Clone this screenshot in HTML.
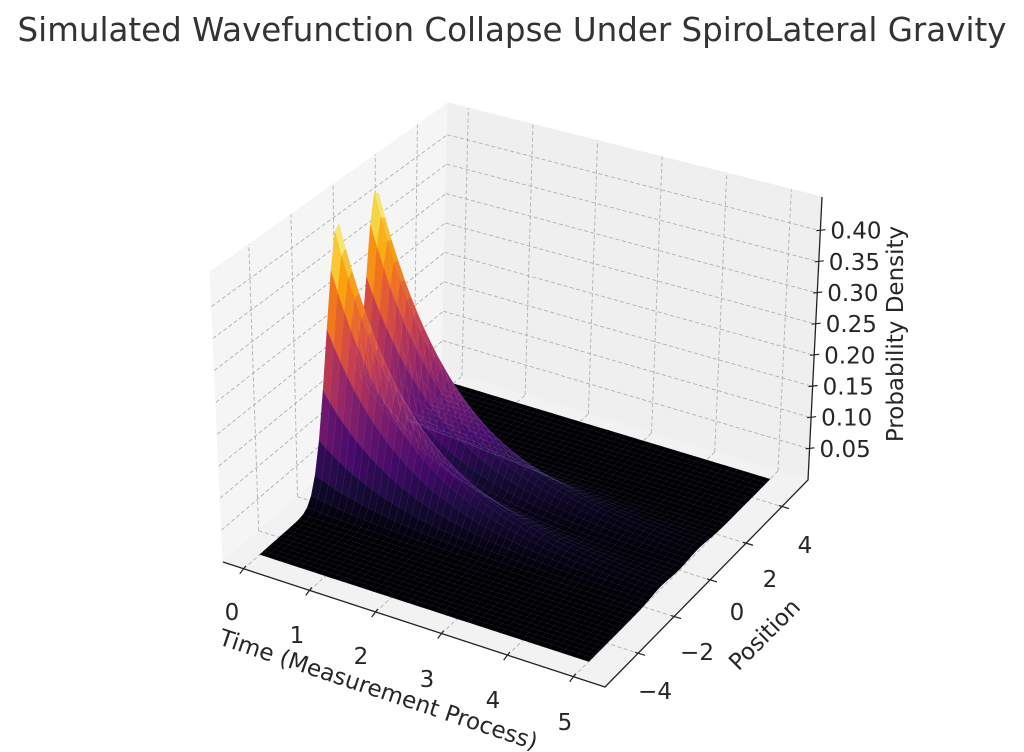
<!DOCTYPE html>
<html><head><meta charset="utf-8"><style>
html,body{margin:0;padding:0;background:#fff;}
svg{display:block;}
svg text{font-family:"DejaVu Sans","Liberation Sans",sans-serif;}
</style></head><body>
<svg id="s" width="1024" height="752" viewBox="0 0 1024 752" xmlns="http://www.w3.org/2000/svg">
<text x="512" y="41" text-anchor="middle" font-size="32.5" fill="#333">Simulated Wavefunction Collapse Under SpiroLateral Gravity</text>
<g id="panes"></g>
<g id="surf"></g>
<g id="axes"></g>
</svg>
<script>
const NS="http://www.w3.org/2000/svg";
function el(tag,attrs,parent,text){const e=document.createElementNS(NS,tag);for(const k in attrs)e.setAttribute(k,attrs[k]);if(text!==undefined)e.textContent=text;parent.appendChild(e);return e;}
const panes=document.getElementById('panes'),surf=document.getElementById('surf'),axes=document.getElementById('axes');
const pt=a=>a.map(p=>p[0].toFixed(1)+','+p[1].toFixed(1)).join(' ');
const lerp=(a,b,f)=>[a[0]+(b[0]-a[0])*f,a[1]+(b[1]-a[1])*f];
const F00=[223,562],F10=[605,687],F11=[808,480],F01=[442,370];
const L0=[223,562],L1=[442,370],LT0=[210,272],LT1=[448,103];
const R0=[442,370],R1=[808,480],RT0=[448,103],RT1=[822,197];
const tmin=-0.315,tmax=5.475,pmin=-5.84,pmax=5.45,zmax=0.454,ZS=626;
el('polygon',{points:pt([L0,L1,LT1,LT0]),fill:'#f5f5f5',stroke:'#f5f5f5'},panes);
el('polygon',{points:pt([R0,R1,RT1,RT0]),fill:'#efefef',stroke:'#efefef'},panes);
el('polygon',{points:pt([F00,F10,F11,F01]),fill:'#f2f2f2',stroke:'#f2f2f2'},panes);
const gs={stroke:'#b0b0b0','stroke-width':0.9,'stroke-dasharray':'4,2.5',fill:'none'};
const zt=[0.05,0.10,0.15,0.20,0.25,0.30,0.35,0.40];
const pticks=[-4,-2,0,2,4],tticks=[0,1,2,3,4,5];
for(const z of zt){const f=z/zmax;const a=lerp(L0,LT0,f),b=lerp(L1,LT1,f);el('line',Object.assign({x1:a[0],y1:a[1],x2:b[0],y2:b[1]},gs),panes);}
for(const p of pticks){const v=(p-pmin)/(pmax-pmin);const a=lerp(L0,L1,v),b=lerp(LT0,LT1,v);el('line',Object.assign({x1:a[0],y1:a[1],x2:b[0],y2:b[1]},gs),panes);}
for(const z of zt){const f=z/zmax;const a=lerp(R0,RT0,f),b=lerp(R1,RT1,f);el('line',Object.assign({x1:a[0],y1:a[1],x2:b[0],y2:b[1]},gs),panes);}
for(const t of tticks){const u=(t-tmin)/(tmax-tmin);const a=lerp(R0,R1,u),b=lerp(RT0,RT1,u);el('line',Object.assign({x1:a[0],y1:a[1],x2:b[0],y2:b[1]},gs),panes);}
function F(t,p){const u=(t-tmin)/(tmax-tmin),v=(p-pmin)/(pmax-pmin);
 return [(1-u)*(1-v)*F00[0]+u*(1-v)*F10[0]+u*v*F11[0]+(1-u)*v*F01[0],
         (1-u)*(1-v)*F00[1]+u*(1-v)*F10[1]+u*v*F11[1]+(1-u)*v*F01[1]];}
for(const t of tticks){const a=F(t,pmin),b=F(t,pmax);el('line',Object.assign({x1:a[0],y1:a[1],x2:b[0],y2:b[1]},gs),panes);}
for(const p of pticks){const a=F(tmin,p),b=F(tmax,p);el('line',Object.assign({x1:a[0],y1:a[1],x2:b[0],y2:b[1]},gs),panes);}
const stops=[[0,[0,0,4]],[0.1,[22,11,57]],[0.2,[66,10,104]],[0.3,[106,23,110]],[0.4,[147,38,103]],[0.5,[188,55,84]],[0.6,[221,81,58]],[0.7,[243,120,25]],[0.8,[252,165,10]],[0.9,[246,215,70]],[1,[252,255,164]]];
function cmap(x){x=Math.max(0,Math.min(1,x));for(let i=1;i<stops.length;i++){if(x<=stops[i][0]){const a=stops[i-1],b=stops[i];const f=(x-a[0])/(b[0]-a[0]);return 'rgb('+[0,1,2].map(k=>Math.round(a[1][k]+(b[1][k]-a[1][k])*f)).join(',')+')';}}return 'rgb(252,255,164)';}
const s=0.55,k=0.9,A=0.42;
const Z=(t,p)=>A*Math.exp(-k*t)*(Math.exp(-(p-1)*(p-1)/(2*s*s))+Math.exp(-(p+1)*(p+1)/(2*s*s)));
const NT=50,NP=50,quads=[];
const P=(t,p)=>{const f=F(t,p);return [f[0],f[1]-Z(t,p)*ZS];};
for(let i=0;i<NT-1;i++)for(let j=0;j<NP-1;j++){
 const t0=5*i/(NT-1),t1=5*(i+1)/(NT-1),p0=-5+10*j/(NP-1),p1=-5+10*(j+1)/(NP-1);
 const zm=(Z(t0,p0)+Z(t1,p0)+Z(t0,p1)+Z(t1,p1))/4;
 const d=(t0+t1)/2/5.5+(5-(p0+p1)/2)/11;
 quads.push({d,pts:[P(t0,p0),P(t1,p0),P(t1,p1),P(t0,p1)],c:cmap(zm/0.42)});}
quads.sort((a,b)=>a.d-b.d);
for(const q of quads){el('polygon',{points:pt(q.pts),fill:q.c,stroke:q.c,'stroke-width':0.6},surf);}
for(const q of quads)el('polygon',{points:pt(q.pts),fill:'none',stroke:'rgba(200,200,230,0.1)','stroke-width':0.4},surf);
const ax={stroke:'#222','stroke-width':1.3,fill:'none'};
el('polyline',Object.assign({points:pt([F00,F10,F11,RT1])},ax),axes);
const FS=23;
const tx=[[232,620],[297,643],[361,664],[427,687],[493,708],[565,730]];
tticks.forEach((t,i)=>{const a=F(t,pmin);el('line',{x1:a[0]+2,y1:a[1]-3,x2:a[0]-4,y2:a[1]+5,stroke:'#222','stroke-width':1.2},axes);
 el('text',{x:tx[i][0],y:tx[i][1],'font-size':FS,'text-anchor':'middle',fill:'#262626'},axes,String(t));});
const pl=[[655,699],[697,660],[737,620],[770,587],[805,553]];
pticks.forEach((p,i)=>{const a=F(tmax,p);el('line',{x1:a[0]-3,y1:a[1]-1,x2:a[0]+7,y2:a[1]+2,stroke:'#222','stroke-width':1.2},axes);
 el('text',{x:pl[i][0],y:pl[i][1],'font-size':FS,'text-anchor':'middle',fill:'#262626'},axes,(p<0?'\u2212'+(-p):String(p)));});
zt.forEach(z=>{const f=z/zmax;const a=lerp(F11,RT1,f);el('line',{x1:a[0]-4,y1:a[1],x2:a[0]+5,y2:a[1]-1,stroke:'#222','stroke-width':1.2},axes);
 el('text',{x:a[0]+10,y:a[1]+8,'font-size':FS,fill:'#262626'},axes,z.toFixed(2));});
el('text',{x:0,y:0,'font-size':FS,'text-anchor':'middle',fill:'#262626',transform:'translate(376,697) rotate(18.5)'},axes,'Time (Measurement Process)');
el('text',{x:0,y:0,'font-size':FS,'text-anchor':'middle',fill:'#262626',transform:'translate(770,640) rotate(-45)'},axes,'Position');
el('text',{x:0,y:0,'font-size':FS,'text-anchor':'middle',fill:'#262626',transform:'translate(903,334) rotate(-90)'},axes,'Probability Density');
</script>
</body></html>
